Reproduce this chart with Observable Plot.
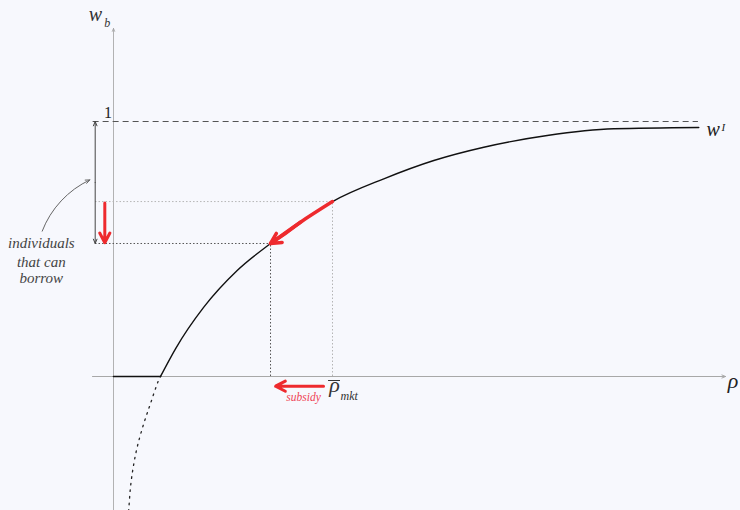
<!DOCTYPE html>
<html><head><meta charset="utf-8">
<script src="https://cdn.jsdelivr.net/npm/d3@7"></script>
<script src="https://cdn.jsdelivr.net/npm/@observablehq/plot@0.6"></script>
<style>html,body{margin:0;padding:0;background:#f7f8fd;} svg{display:block;}</style>
</head><body><div id="chart"></div>
<script>
// Main curve w^I(rho) (rho in units of rho_mkt, w in units of 1)
const curveRho = [0.2146, 0.2831, 0.4123, 0.5648, 0.7169, 0.8539, 1.0, 1.2342, 1.4626, 1.6909, 1.9804, 2.2845, 2.6726];
const curveW   = [0, 0.1086, 0.2718, 0.4157, 0.5216, 0.6051, 0.686, 0.7753, 0.8471, 0.8992, 0.945, 0.9714, 0.9765];
// Dotted continuation below zero
const branchRho = [0.064, 0.0699, 0.0776, 0.090, 0.1082, 0.1384, 0.169, 0.2023, 0.2146];
const branchW   = [-0.58, -0.519, -0.434, -0.356, -0.277, -0.184, -0.106, -0.0224, 0];
// Flat part at zero
const flatRho = [0, 0.2146];
const flatW = [0, 0];
// Key points
const rhoMkt = 1.0, wMkt = 0.686;
const rhoSub = 0.717, wSub = 0.5216;
const wTop = 1;

const curve = curveRho.map((r, i) => ({rho: r, w: curveW[i]}));
const branch = branchRho.map((r, i) => ({rho: r, w: branchW[i]}));
const flat = flatRho.map((r, i) => ({rho: r, w: flatW[i]}));
const move = curve.filter(d => d.rho >= rhoSub - 1e-3 && d.rho <= rhoMkt + 1e-3);
const headFrom = move[1];

const serif = "Liberation Serif, serif";
const red = "#ee2a2e";
const T = {fontFamily: serif, lineAnchor: "bottom"};

const chart = Plot.plot({
  width: 740,
  height: 510,
  margin: 0,
  x: {domain: [0, 1], range: [113, 332], axis: null},
  y: {domain: [0, 1], range: [376, 121], axis: null},
  style: {background: "#f7f8fd", overflow: "hidden"},
  marks: [
    // axes
    Plot.arrow([{}], {x1: -0.096, x2: 2.795, y1: 0, y2: 0, stroke: "#a8a8a8", strokeWidth: 1, headLength: 6, headAngle: 45}),
    Plot.arrow([{}], {x1: 0, x2: 0, y1: -0.6, y2: 1.365, stroke: "#a0a0a0", strokeWidth: 0.8, headLength: 6, headAngle: 45}),
    // dashed line at 1
    Plot.ruleY([wTop], {x1: -0.093, x2: 2.671, stroke: "#555", strokeWidth: 1, strokeDasharray: "6,4"}),
    // guides
    Plot.ruleY([wMkt], {x1: -0.082, x2: rhoMkt, stroke: "#b5b5b5", strokeWidth: 1, strokeDasharray: "1.5,2"}),
    Plot.ruleX([rhoMkt], {y1: 0, y2: wMkt, stroke: "#b5b5b5", strokeWidth: 1, strokeDasharray: "1.5,2"}),
    Plot.ruleY([wSub], {x1: -0.082, x2: rhoSub, stroke: "#555", strokeWidth: 1, strokeDasharray: "1.5,2"}),
    Plot.ruleX([rhoSub], {y1: 0, y2: wSub, stroke: "#555", strokeWidth: 1, strokeDasharray: "1.5,2"}),
    // curves
    Plot.line(flat, {x: "rho", y: "w", stroke: "#111", strokeWidth: 1.6}),
    Plot.line(branch, {x: "rho", y: "w", stroke: "#222", strokeWidth: 1.3, strokeDasharray: "1.6,5", curve: "catmull-rom"}),
    Plot.line(curve, {x: "rho", y: "w", stroke: "#111", strokeWidth: 1.4, curve: "monotone-x"}),
    // double arrow on the left
    Plot.arrow([{}], {x1: -0.0836, x2: -0.0836, y1: (wTop + wSub) / 2, y2: wTop, stroke: "#444", strokeWidth: 1, headLength: 7, headAngle: 45}),
    Plot.arrow([{}], {x1: -0.0836, x2: -0.0836, y1: (wTop + wSub) / 2, y2: wSub, stroke: "#444", strokeWidth: 1, headLength: 7, headAngle: 45}),
    // red arrows
    Plot.arrow([{}], {x1: -0.0397, x2: -0.0397, y1: 0.680, y2: wSub + 0.003, stroke: red, strokeWidth: 3, headLength: 5.5, headAngle: 55}),
    Plot.line(move, {x: "rho", y: "w", stroke: red, strokeWidth: 3.5, curve: "monotone-x"}),
    Plot.arrow([{}], {x1: headFrom.rho, y1: headFrom.w, x2: rhoSub, y2: wSub, stroke: red, strokeWidth: 3.5, headLength: 5, headAngle: 55, bend: 3}),
    Plot.arrow([{}], {x1: 0.959, x2: 0.740, y1: -0.038, y2: -0.038, stroke: red, strokeWidth: 3, headLength: 5.5, headAngle: 55}),
    // annotation arrow
    Plot.arrow([{}], {x1: -0.3256, y1: 0.570, x2: -0.108, y2: 0.771, stroke: "#666", strokeWidth: 1, headLength: 7, headAngle: 45, bend: 22}),
    // bar over rho
    Plot.ruleY([-0.0157], {x1: 0.982, x2: 1.0365, stroke: "#333", strokeWidth: 1}),
    // texts
    Plot.text(["w"], {...T, x: -0.082, y: 1.396, fontSize: 20, fontStyle: "italic", fill: "#333", textAnchor: "middle"}),
    Plot.text(["b"], {...T, x: -0.028, y: 1.369, fontSize: 12, fontStyle: "italic", fill: "#333", textAnchor: "middle"}),
    Plot.text(["1"], {...T, x: -0.025, y: 1.012, fontSize: 16, fill: "#222", textAnchor: "middle"}),
    Plot.text(["w"], {...T, x: 2.708, y: 0.942, fontSize: 20, fontStyle: "italic", fill: "#222", textAnchor: "start"}),
    Plot.text(["I"], {...T, x: 2.7763, y: 0.962, fontSize: 11, fontStyle: "italic", fill: "#222", textAnchor: "start"}),
    Plot.text(["ρ"], {...T, x: 2.829, y: -0.047, fontSize: 22, fontStyle: "italic", fill: "#222", textAnchor: "middle"}),
    Plot.text(["ρ"], {...T, x: 1.009, y: -0.062, fontSize: 22, fontStyle: "italic", fill: "#333", textAnchor: "middle"}),
    Plot.text(["mkt"], {...T, x: 1.037, y: -0.094, fontSize: 12, fontStyle: "italic", fill: "#333", textAnchor: "start"}),
    Plot.text(["subsidy"], {...T, x: 0.868, y: -0.098, fontSize: 11.5, fontStyle: "italic", fill: "#ef4455", textAnchor: "middle"}),
    Plot.text(["individuals", "that can", "borrow"], {...T, x: -0.3297, y: [0.502, 0.431, 0.365], fontSize: 15, fontStyle: "italic", fill: "#444", textAnchor: "middle"})
  ]
});
document.getElementById("chart").appendChild(chart);
</script>
</body></html>
